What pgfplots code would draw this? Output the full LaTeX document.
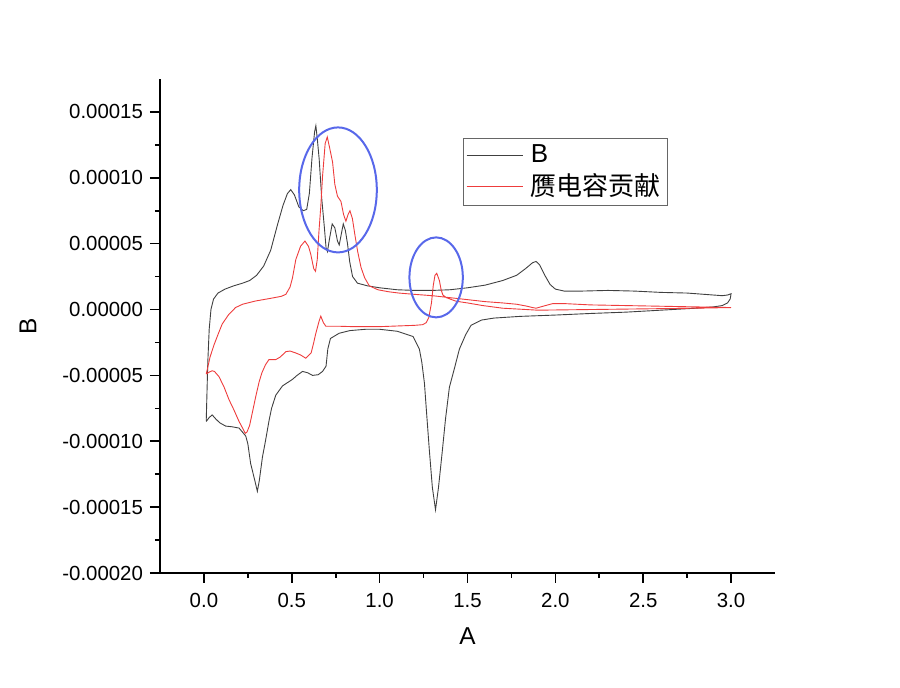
\documentclass[border=0pt]{standalone}
\usepackage{pgfplots}
\pgfplotsset{compat=1.18}
\usetikzlibrary{calc}
\usepackage{fontspec}
\setmainfont{Liberation Sans}
\newfontfamily\cjk{Noto Sans CJK SC}
\definecolor{ringblue}{RGB}{88,104,234}
\definecolor{cvred}{RGB}{238,60,60}

\begin{document}
\begin{tikzpicture}
\begin{axis}[width=307.5pt,height=247pt,scale only axis,
  xmin=-0.25,xmax=3.25,ymin=-0.0002,ymax=0.000175,
  axis lines*=left,axis line style={line width=1pt},
  tick align=outside,major tick length=5pt,minor tick length=2.5pt,
  every tick/.style={black,line width=0.8pt},
  xtick={0,0.5,...,3},minor x tick num=1,
  ytick={-0.0002,-0.00015,...,0.00016},minor y tick num=1,
  scaled y ticks=false,
  xticklabel style={yshift=-1.5pt,/pgf/number format/.cd,fixed,fixed zerofill,precision=1},
  yticklabel style={/pgf/number format/.cd,fixed,fixed zerofill,precision=5},
  /pgf/number format/assume math mode=true,
  tick label style={font=\fontsize{10.2}{12}\selectfont},
  label style={font=\fontsize{12.2}{14}\selectfont},
  xlabel={A},ylabel={B},
  x label style={at={(axis description cs:0.5,-0.128)},anchor=center},
  y label style={at={(axis description cs:-0.2146,0.5)},anchor=center},
  clip=false,
  legend cell align=left,
  legend style={at={(rel axis cs:0.493,0.8806)},anchor=north west,
    draw=black!60,line width=0.5pt,inner sep=1.2pt,row sep=0pt,
    font=\fontsize{13}{15}\selectfont},
  legend image code/.code={\draw[#1] (0pt,0pt) -- (28pt,0pt); \path (30pt,0pt);}]

% black CV curve
\addplot[black!75,line width=0.45pt] table {
x y
0.013 -8.5e-5
0.018 -6.0e-5
0.022 -4.0e-5
0.03 -1.5e-5
0.04 0.0
0.055 0.8e-5
0.08 1.25e-5
0.12 1.55e-5
0.17 1.8e-5
0.22 2.0e-5
0.26 2.2e-5
0.30 2.6e-5
0.34 3.3e-5
0.38 4.5e-5
0.42 6.5e-5
0.45 7.9e-5
0.475 8.8e-5
0.494 9.1e-5
0.515 8.7e-5
0.54 7.8e-5
0.565 7.5e-5
0.585 7.6e-5
0.60 8.8e-5
0.615 11.5e-5
0.63 13.5e-5
0.637 13.95e-5
0.645 13.0e-5
0.656 11.4e-5
0.67 8.5e-5
0.685 6.3e-5
0.695 4.7e-5
0.703 4.4e-5
0.715 5.4e-5
0.73 6.5e-5
0.745 6.2e-5
0.76 5.2e-5
0.77 4.9e-5
0.78 5.6e-5
0.793 6.5e-5
0.805 6.0e-5
0.817 5.0e-5
0.83 3.6e-5
0.846 2.5e-5
0.874 2.0e-5
0.93 1.8e-5
1.0 1.65e-5
1.1 1.5e-5
1.2 1.45e-5
1.3 1.45e-5
1.4 1.5e-5
1.5 1.65e-5
1.6 1.85e-5
1.7 2.2e-5
1.78 2.6e-5
1.83 3.1e-5
1.87 3.55e-5
1.89 3.65e-5
1.91 3.4e-5
1.94 2.6e-5
1.97 1.9e-5
2.0 1.55e-5
2.05 1.4e-5
2.15 1.4e-5
2.3 1.45e-5
2.45 1.4e-5
2.6 1.3e-5
2.75 1.25e-5
2.9 1.1e-5
2.95 1.05e-5
2.98 1.1e-5
3.0 1.2e-5
2.995 0.8e-5
2.98 0.5e-5
2.95 0.3e-5
2.9 0.2e-5
2.8 0.1e-5
2.6 -0.05e-5
2.4 -0.2e-5
2.2 -0.3e-5
2.0 -0.42e-5
1.8 -0.52e-5
1.65 -0.65e-5
1.58 -0.8e-5
1.52 -1.2e-5
1.49 -1.9e-5
1.454 -3.0e-5
1.425 -4.5e-5
1.397 -5.9e-5
1.375 -8.3e-5
1.357 -10.7e-5
1.335 -13.5e-5
1.318 -15.2e-5
1.30 -13.5e-5
1.283 -10.7e-5
1.268 -8.0e-5
1.255 -5.6e-5
1.24 -4.0e-5
1.226 -3.0e-5
1.19 -2.05e-5
1.1 -1.65e-5
1.0 -1.5e-5
0.92 -1.5e-5
0.83 -1.6e-5
0.77 -1.8e-5
0.72 -2.2e-5
0.705 -3.0e-5
0.695 -4.3e-5
0.675 -4.7e-5
0.65 -4.95e-5
0.618 -5.0e-5
0.59 -4.8e-5
0.561 -4.7e-5
0.53 -5.0e-5
0.504 -5.3e-5
0.447 -5.8e-5
0.409 -6.5e-5
0.385 -7.5e-5
0.371 -8.4e-5
0.35 -10.0e-5
0.333 -11.2e-5
0.315 -13.0e-5
0.304 -13.8e-5
0.29 -13.0e-5
0.266 -11.7e-5
0.25 -10.2e-5
0.238 -9.6e-5
0.2 -9.0e-5
0.16 -8.9e-5
0.124 -8.85e-5
0.09 -8.6e-5
0.067 -8.3e-5
0.047 -8.0e-5
0.03 -8.2e-5
0.013 -8.5e-5
};
\addlegendentry{B}

% red pseudocapacitive contribution
\addplot[cvred,line width=0.45pt] table {
x y
0.013 -4.9e-5
0.02 -4.5e-5
0.035 -3.6e-5
0.057 -2.7e-5
0.08 -1.9e-5
0.104 -1.1e-5
0.14 -0.4e-5
0.18 0.15e-5
0.22 0.4e-5
0.295 0.65e-5
0.38 0.85e-5
0.44 1.0e-5
0.466 1.15e-5
0.49 1.7e-5
0.504 2.4e-5
0.523 3.8e-5
0.55 4.8e-5
0.575 5.2e-5
0.595 4.8e-5
0.608 4.2e-5
0.625 3.1e-5
0.635 2.9e-5
0.645 3.8e-5
0.655 6.0e-5
0.665 7.8e-5
0.675 10.1e-5
0.69 12.6e-5
0.702 13.1e-5
0.715 12.3e-5
0.732 11.2e-5
0.745 9.5e-5
0.76 8.6e-5
0.78 8.2e-5
0.795 7.2e-5
0.808 6.7e-5
0.82 7.2e-5
0.831 7.5e-5
0.845 6.9e-5
0.86 5.6e-5
0.875 4.4e-5
0.894 3.2e-5
0.915 2.4e-5
0.941 1.8e-5
0.99 1.5e-5
1.05 1.35e-5
1.11 1.25e-5
1.2 1.15e-5
1.3 1.05e-5
1.4 0.9e-5
1.5 0.75e-5
1.6 0.6e-5
1.7 0.5e-5
1.78 0.4e-5
1.84 0.25e-5
1.87 0.15e-5
1.89 0.1e-5
1.93 0.25e-5
1.985 0.45e-5
2.05 0.45e-5
2.2 0.35e-5
2.4 0.3e-5
2.6 0.25e-5
2.8 0.2e-5
3.0 0.15e-5
2.8 0.1e-5
2.5 0.05e-5
2.2 0.0
1.9 -0.05e-5
1.7 0.1e-5
1.587 0.3e-5
1.5 0.5e-5
1.435 0.63e-5
1.40 0.8e-5
1.38 0.9e-5
1.36 1.1e-5
1.35 1.5e-5
1.34 2.2e-5
1.325 2.75e-5
1.315 2.6e-5
1.305 1.8e-5
1.295 0.5e-5
1.28 -0.6e-5
1.265 -1.0e-5
1.245 -1.15e-5
1.2 -1.2e-5
1.0 -1.3e-5
0.85 -1.3e-5
0.77 -1.27e-5
0.694 -1.27e-5
0.68 -1.0e-5
0.665 -0.5e-5
0.655 -0.9e-5
0.645 -1.4e-5
0.635 -1.9e-5
0.625 -2.5e-5
0.61 -3.3e-5
0.58 -3.7e-5
0.55 -3.45e-5
0.523 -3.3e-5
0.49 -3.15e-5
0.466 -3.2e-5
0.435 -3.6e-5
0.409 -3.8e-5
0.37 -3.8e-5
0.35 -4.2e-5
0.33 -4.8e-5
0.314 -5.5e-5
0.295 -6.6e-5
0.276 -7.8e-5
0.26 -8.8e-5
0.245 -9.3e-5
0.235 -9.4e-5
0.22 -9.0e-5
0.2 -8.5e-5
0.17 -7.6e-5
0.143 -6.85e-5
0.115 -5.9e-5
0.086 -5.1e-5
0.06 -4.7e-5
0.047 -4.65e-5
0.03 -4.75e-5
0.013 -4.9e-5
};
\addlegendentry{\cjk 赝电容贡献}

% highlighted regions
\draw[ringblue,line width=1pt] (axis cs:0.763,9.08e-5) ellipse [x radius=19.4pt,y radius=31.25pt];
\draw[ringblue,line width=1pt] (axis cs:1.3215,2.44e-5) ellipse [x radius=13.35pt,y radius=20pt];
\end{axis}
\pgfresetboundingbox
\path ($(current axis.south west)+(-80pt,-57.5pt)$) rectangle ($(current axis.north east)+(62.5pt,39.5pt)$);
\end{tikzpicture}
\end{document}
